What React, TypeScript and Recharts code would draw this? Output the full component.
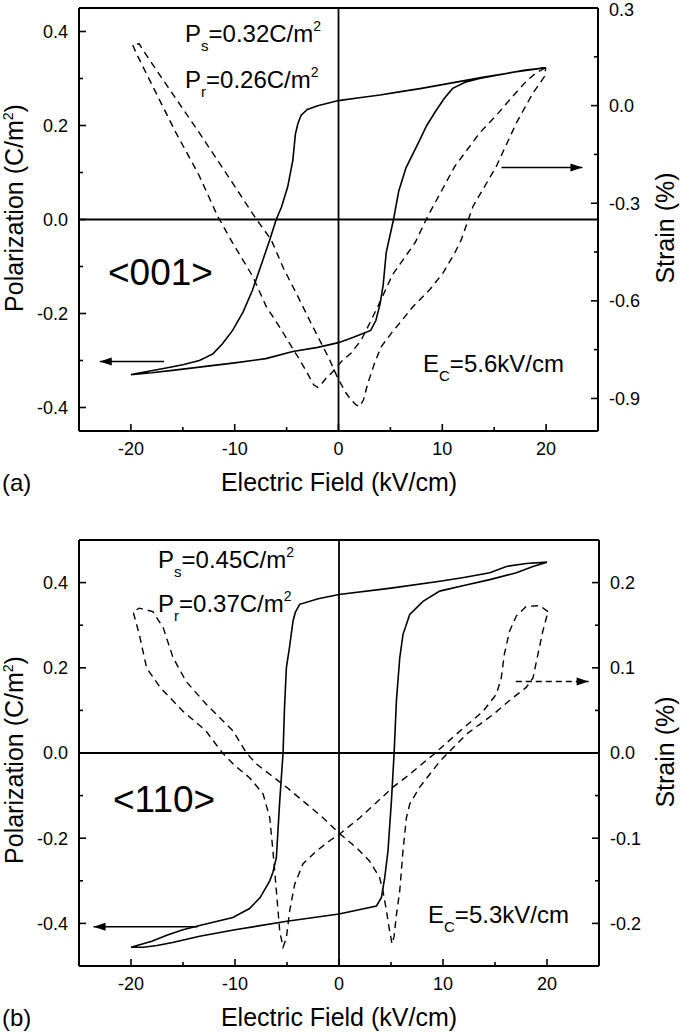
import React from 'react';
import { LineChart, Line, XAxis, YAxis, ReferenceLine } from 'recharts';

const FONT = 'Arial, "Liberation Sans", sans-serif';

type Pair = [number, number];

// shared field axis
const fieldTicks = [-20, -15, -10, -5, 0, 5, 10, 15, 20];
const fieldLabels = [-20, -10, 0, 10, 20];

const polTicks = [-0.4, -0.3, -0.2, -0.1, 0, 0.1, 0.2, 0.3, 0.4];
const polLabels = [-0.4, -0.2, 0, 0.2, 0.4];

const strainTicksA = [-0.9, -0.75, -0.6, -0.45, -0.3, -0.15, 0, 0.15, 0.3];
const strainLabelsA = [-0.9, -0.6, -0.3, 0, 0.3];
const strainTicksB = [-0.2, -0.15, -0.1, -0.05, 0, 0.05, 0.1, 0.15, 0.2];
const strainLabelsB = [-0.2, -0.1, 0, 0.1, 0.2];

// (a) <001> P-E loop: field +20 -> -20, then back to +20
const polLoopA: Pair[] = [
  [20, 0.323], [18, 0.318], [16, 0.31], [14, 0.303], [12, 0.295], [10, 0.287], [8, 0.279],
  [6, 0.272], [4, 0.265], [2, 0.259], [0, 0.253], [-2, 0.242], [-3.0, 0.234], [-3.6, 0.222],
  [-3.9, 0.205], [-4.15, 0.182], [-4.4, 0.126], [-4.9, 0.069], [-5.5, 0.026], [-6.0, 0],
  [-6.65, -0.045], [-7.3, -0.087], [-8.3, -0.151], [-9.2, -0.197], [-10.2, -0.236],
  [-11.2, -0.265], [-12.1, -0.286], [-13.4, -0.3], [-15, -0.309], [-16.6, -0.316],
  [-18.3, -0.323], [-20, -0.33],
  [-18, -0.326], [-16, -0.321], [-13, -0.313], [-10, -0.305], [-7, -0.296], [-4.4, -0.281],
  [-2, -0.272], [0, -0.262], [1.5, -0.25], [3.1, -0.236], [3.6, -0.215], [4.0, -0.18],
  [4.3, -0.14], [4.6, -0.07], [5.3, 0], [5.8, 0.06], [6.5, 0.11], [7.8, 0.168], [8.5, 0.2],
  [9.4, 0.232], [10.2, 0.258], [11, 0.279], [12.2, 0.292], [13.6, 0.3], [15, 0.306],
  [17, 0.314], [20, 0.323],
];

// (a) strain loop
const strainLoopA: Pair[] = [
  [19.9, 0.116], [19, 0.1], [18.1, 0.075], [16.8, 0.029], [15.2, -0.03], [13.6, -0.084],
  [11.2, -0.187], [8.6, -0.34], [7.4, -0.42], [6.3, -0.47], [5.2, -0.52], [3.9, -0.61],
  [3.0, -0.669], [2.2, -0.72], [1.2, -0.761], [0.26, -0.787], [-0.55, -0.818], [-1.2, -0.838],
  [-1.7, -0.858], [-2.0, -0.866], [-2.4, -0.858], [-3.0, -0.822], [-3.76, -0.78],
  [-4.73, -0.73], [-5.5, -0.689], [-6.97, -0.617], [-8.26, -0.525], [-10.2, -0.422],
  [-11.64, -0.34], [-13.5, -0.21], [-15.65, -0.084], [-17.58, 0.039], [-19.5, 0.162],
  [-19.84, 0.188], [-19.2, 0.19], [-18.87, 0.172], [-16.6, 0.065], [-13.4, -0.084],
  [-10.2, -0.238], [-7.94, -0.348], [-6.49, -0.412], [-5.3, -0.5], [-4.08, -0.576],
  [-2.64, -0.669], [-0.87, -0.78], [-0.06, -0.838], [0.74, -0.884], [1.22, -0.905],
  [1.7, -0.92], [2.03, -0.925], [2.4, -0.905], [2.83, -0.853], [3.47, -0.792], [4.11, -0.741],
  [5.08, -0.7], [5.88, -0.669], [7.17, -0.618], [8.78, -0.566], [10.06, -0.515],
  [11.2, -0.453], [11.83, -0.412], [12.95, -0.31], [15.2, -0.187], [17.14, -0.053],
  [18.74, 0.039], [19.86, 0.09], [19.96, 0.116],
];

// (b) <110> P-E loop
const polLoopB: Pair[] = [
  [20, 0.448], [18, 0.445], [16.1, 0.438], [14.5, 0.423], [12, 0.412], [9.7, 0.403], [5, 0.387],
  [0, 0.372], [-2, 0.362], [-3.78, 0.349], [-4.2, 0.33], [-4.42, 0.31], [-4.75, 0.25],
  [-5.06, 0.2], [-5.25, 0.1], [-5.38, 0], [-5.7, -0.113], [-6.02, -0.245], [-6.35, -0.28],
  [-6.66, -0.3], [-7.6, -0.34], [-8.6, -0.365], [-10.2, -0.386], [-13.4, -0.405],
  [-15, -0.415], [-16.5, -0.427], [-18, -0.442], [-20, -0.456],
  [-18.8, -0.456], [-17.5, -0.452], [-16, -0.445], [-13.4, -0.43], [-10, -0.415],
  [-5, -0.395], [0, -0.378], [3.6, -0.359], [4.08, -0.339], [4.4, -0.292], [4.71, -0.23],
  [5.04, -0.113], [5.3, 0], [5.52, 0.122], [5.84, 0.223], [6.15, 0.278], [6.8, 0.325],
  [8.08, 0.356], [9.68, 0.38], [12, 0.393], [14.5, 0.407], [17.06, 0.423], [18.65, 0.438],
  [20, 0.448],
];

// (b) strain loop
const strainLoopB: Pair[] = [
  [20.1, 0.166], [19.3, 0.173], [18, 0.172], [17.06, 0.161], [16.4, 0.143], [15.9, 0.116],
  [15.6, 0.088], [15.13, 0.069], [13.85, 0.049], [11.28, 0.022], [9.07, -0.002],
  [7.76, -0.015], [6.8, -0.025], [5.2, -0.04], [3.6, -0.058], [2, -0.076], [0.07, -0.095],
  [-0.9, -0.103], [-2.17, -0.115], [-3.46, -0.13], [-4.26, -0.154], [-4.74, -0.185],
  [-5.06, -0.217], [-5.38, -0.228], [-5.7, -0.209], [-6.02, -0.162], [-6.35, -0.115],
  [-6.66, -0.076], [-7.3, -0.048], [-8.6, -0.029], [-10, -0.015], [-11.2, 0],
  [-12.8, 0.026], [-15, 0.049], [-17.2, 0.077], [-18.5, 0.1], [-19.2, 0.139], [-19.8, 0.166],
  [-19.2, 0.17], [-17.9, 0.166], [-16.9, 0.147], [-15.96, 0.112], [-14.7, 0.084],
  [-12.75, 0.057], [-10.2, 0.026], [-8.9, 0], [-7.94, -0.013], [-6.66, -0.025],
  [-5.06, -0.04], [-3.1, -0.06], [-1.54, -0.076], [0, -0.094], [1.67, -0.111],
  [2.95, -0.127], [3.9, -0.146], [4.23, -0.162], [4.56, -0.185], [4.87, -0.209],
  [5.1, -0.224], [5.3, -0.215], [5.52, -0.19], [5.84, -0.162], [6.15, -0.115],
  [6.48, -0.076], [6.8, -0.06], [7.76, -0.04], [9.68, -0.01], [12.25, 0.022], [14.8, 0.045],
  [16.73, 0.065], [18, 0.077], [18.65, 0.088], [19.13, 0.116], [19.6, 0.143], [20.1, 0.166],
];

// arrows pointing at the axis each curve belongs to: [tail, head]
const polArrowA: Pair[] = [[-16.8, -0.302], [-23, -0.302]];
const strainArrowA: Pair[] = [[15.7, -0.19], [23.5, -0.19]];
const polArrowB: Pair[] = [[-13.6, -0.408], [-23.6, -0.408]];
const strainArrowB: Pair[] = [[17, 0.084], [24, 0.084]];

const toPts = (arr: Pair[], key: string) => arr.map(([e, v]) => ({ e, [key]: v }));

const M = 11; // tick label gap from axis line

function AxisTick(props: any) {
  const { x, y, payload, side, labels, digits } = props;
  const v = payload.value;
  const major = labels.some((l: number) => Math.abs(l - v) < 1e-6);
  const len = major ? 7 : 4;
  const txt = major ? v.toFixed(digits) : '';
  const common = { fontSize: 18, fill: '#000', fontFamily: FONT };
  if (side === 'left') {
    const ax = x + M;
    return (
      <g>
        <line x1={ax} x2={ax + len} y1={y} y2={y} stroke="#000" strokeWidth={1.6} />
        <text x={x} y={y} dy="0.35em" textAnchor="end" {...common}>{txt}</text>
      </g>
    );
  }
  if (side === 'right') {
    const ax = x - M;
    // keep the top label inside the page
    const ty = Math.max(y, 10);
    return (
      <g>
        <line x1={ax} x2={ax - len} y1={y} y2={y} stroke="#000" strokeWidth={1.6} />
        <text x={x} y={ty} dy="0.35em" textAnchor="start" {...common}>{txt}</text>
      </g>
    );
  }
  const ay = y - M;
  return (
    <g>
      <line x1={x} x2={x} y1={ay} y2={ay - len} stroke="#000" strokeWidth={1.6} />
      <text x={x} y={y} dy="0.71em" textAnchor="middle" {...common}>{txt}</text>
    </g>
  );
}

const arrowHead = (dir: number) => (p: any) => {
  if (p.index !== 1) return <g key={`a-${p.index}`} />;
  const { cx, cy } = p;
  return (
    <path
      key={`a-${p.index}`}
      d={`M${cx},${cy} L${cx - dir * 12},${cy - 4} L${cx - dir * 12},${cy + 4} Z`}
      fill="#000"
      stroke="none"
    />
  );
};

type PanelProps = {
  height: number;
  margin: { top: number; right: number; bottom: number; left: number };
  polDomain: [number, number];
  strainDomain: [number, number];
  strainTicks: number[];
  strainLabels: number[];
  polLoop: Pair[];
  strainLoop: Pair[];
  polArrow: Pair[];
  strainArrow: Pair[];
  dashedArrow: boolean;
};

function Panel(p: PanelProps) {
  const axisLine = { stroke: '#000', strokeWidth: 2 };
  return (
    <LineChart width={680} height={p.height} margin={p.margin}>
      <XAxis
        dataKey="e"
        type="number"
        domain={[-25, 25]}
        allowDataOverflow
        ticks={fieldTicks}
        interval={0}
        height={40}
        axisLine={axisLine}
        tickLine={false}
        tickSize={0}
        tickMargin={M}
        tick={(t: any) => <AxisTick {...t} side="bottom" labels={fieldLabels} digits={0} />}
      />
      <YAxis
        yAxisId="pol"
        type="number"
        domain={p.polDomain}
        allowDataOverflow
        ticks={polTicks}
        interval={0}
        width={60}
        axisLine={axisLine}
        tickLine={false}
        tickSize={0}
        tickMargin={M}
        tick={(t: any) => <AxisTick {...t} side="left" labels={polLabels} digits={1} />}
      />
      <YAxis
        yAxisId="strain"
        orientation="right"
        type="number"
        domain={p.strainDomain}
        allowDataOverflow
        ticks={p.strainTicks}
        interval={0}
        width={60}
        axisLine={axisLine}
        tickLine={false}
        tickSize={0}
        tickMargin={M}
        tick={(t: any) => <AxisTick {...t} side="right" labels={p.strainLabels} digits={1} />}
      />
      <ReferenceLine yAxisId="pol" y={p.polDomain[1]} stroke="#000" strokeWidth={2} />
      <ReferenceLine yAxisId="pol" y={0} stroke="#000" strokeWidth={1.8} />
      <ReferenceLine yAxisId="pol" x={0} stroke="#000" strokeWidth={1.8} />
      <Line
        yAxisId="pol"
        data={toPts(p.polLoop, 'p')}
        dataKey="p"
        stroke="#000"
        strokeWidth={1.6}
        dot={false}
        activeDot={false}
        isAnimationActive={false}
      />
      <Line
        yAxisId="strain"
        data={toPts(p.strainLoop, 's')}
        dataKey="s"
        stroke="#000"
        strokeWidth={1.4}
        strokeDasharray="7 5"
        dot={false}
        activeDot={false}
        isAnimationActive={false}
      />
      <Line
        yAxisId="pol"
        data={toPts(p.polArrow, 'p')}
        dataKey="p"
        stroke="#000"
        strokeWidth={1.4}
        dot={arrowHead(-1)}
        activeDot={false}
        isAnimationActive={false}
      />
      <Line
        yAxisId="strain"
        data={toPts(p.strainArrow, 's')}
        dataKey="s"
        stroke="#000"
        strokeWidth={1.4}
        strokeDasharray={p.dashedArrow ? '6 4' : undefined}
        dot={arrowHead(1)}
        activeDot={false}
        isAnimationActive={false}
      />
    </LineChart>
  );
}

function Sub({ base, sub, rest, sup }: { base: string; sub: string; rest: string; sup?: string }) {
  return (
    <>
      {base}
      <tspan fontSize={15} dy={9}>{sub}</tspan>
      <tspan dy={-9}>{rest}</tspan>
      {sup ? <tspan fontSize={14} dy={-11}>{sup}</tspan> : null}
    </>
  );
}

export default function App() {
  return (
    <div style={{ position: 'absolute', left: 0, top: 0, width: 680, height: 1034, background: '#fff' }}>
      <div style={{ position: 'absolute', left: 0, top: 0 }}>
        <Panel
          height={500}
          margin={{ top: 8, right: 22, bottom: 29, left: 19 }}
          polDomain={[-0.45, 0.45]}
          strainDomain={[-1.0, 0.3]}
          strainTicks={strainTicksA}
          strainLabels={strainLabelsA}
          polLoop={polLoopA}
          strainLoop={strainLoopA}
          polArrow={polArrowA}
          strainArrow={strainArrowA}
          dashedArrow={false}
        />
      </div>
      <div style={{ position: 'absolute', left: 0, top: 520 }}>
        <Panel
          height={514}
          margin={{ top: 20, right: 21, bottom: 28, left: 19 }}
          polDomain={[-0.5, 0.5]}
          strainDomain={[-0.25, 0.25]}
          strainTicks={strainTicksB}
          strainLabels={strainLabelsB}
          polLoop={polLoopB}
          strainLoop={strainLoopB}
          polArrow={polArrowB}
          strainArrow={strainArrowB}
          dashedArrow
        />
      </div>
      <svg
        width={680}
        height={1034}
        style={{ position: 'absolute', left: 0, top: 0, pointerEvents: 'none' }}
        fontFamily={FONT}
        fill="#000"
      >
        {/* panel (a) */}
        <text x={185} y={42} fontSize={24}><Sub base="P" sub="s" rest="=0.32C/m" sup="2" /></text>
        <text x={185} y={88} fontSize={24}><Sub base="P" sub="r" rest="=0.26C/m" sup="2" /></text>
        <text x={108} y={285} fontSize={37}>{'<001>'}</text>
        <text x={423} y={372} fontSize={24}><Sub base="E" sub="C" rest="=5.6kV/cm" /></text>
        <text x={2} y={491} fontSize={24}>(a)</text>
        <text x={339} y={491} fontSize={25} textAnchor="middle">Electric Field (kV/cm)</text>
        <text x={23} y={208} fontSize={25} textAnchor="middle" transform="rotate(-90 23 208)">
          Polarization (C/m<tspan fontSize={14} dy={-10}>2</tspan><tspan dy={10}>)</tspan>
        </text>
        <text x={674} y={228} fontSize={25} textAnchor="middle" transform="rotate(-90 674 228)">Strain (%)</text>

        {/* panel (b) */}
        <text x={158} y={568} fontSize={24}><Sub base="P" sub="s" rest="=0.45C/m" sup="2" /></text>
        <text x={158} y={612} fontSize={24}><Sub base="P" sub="r" rest="=0.37C/m" sup="2" /></text>
        <text x={113} y={812} fontSize={37}>{'<110>'}</text>
        <text x={428} y={923} fontSize={24}><Sub base="E" sub="C" rest="=5.3kV/cm" /></text>
        <text x={2} y={1026} fontSize={24}>(b)</text>
        <text x={339} y={1026} fontSize={25} textAnchor="middle">Electric Field (kV/cm)</text>
        <text x={23} y={760} fontSize={25} textAnchor="middle" transform="rotate(-90 23 760)">
          Polarization (C/m<tspan fontSize={14} dy={-10}>2</tspan><tspan dy={10}>)</tspan>
        </text>
        <text x={674} y={752} fontSize={25} textAnchor="middle" transform="rotate(-90 674 752)">Strain (%)</text>
      </svg>
    </div>
  );
}
